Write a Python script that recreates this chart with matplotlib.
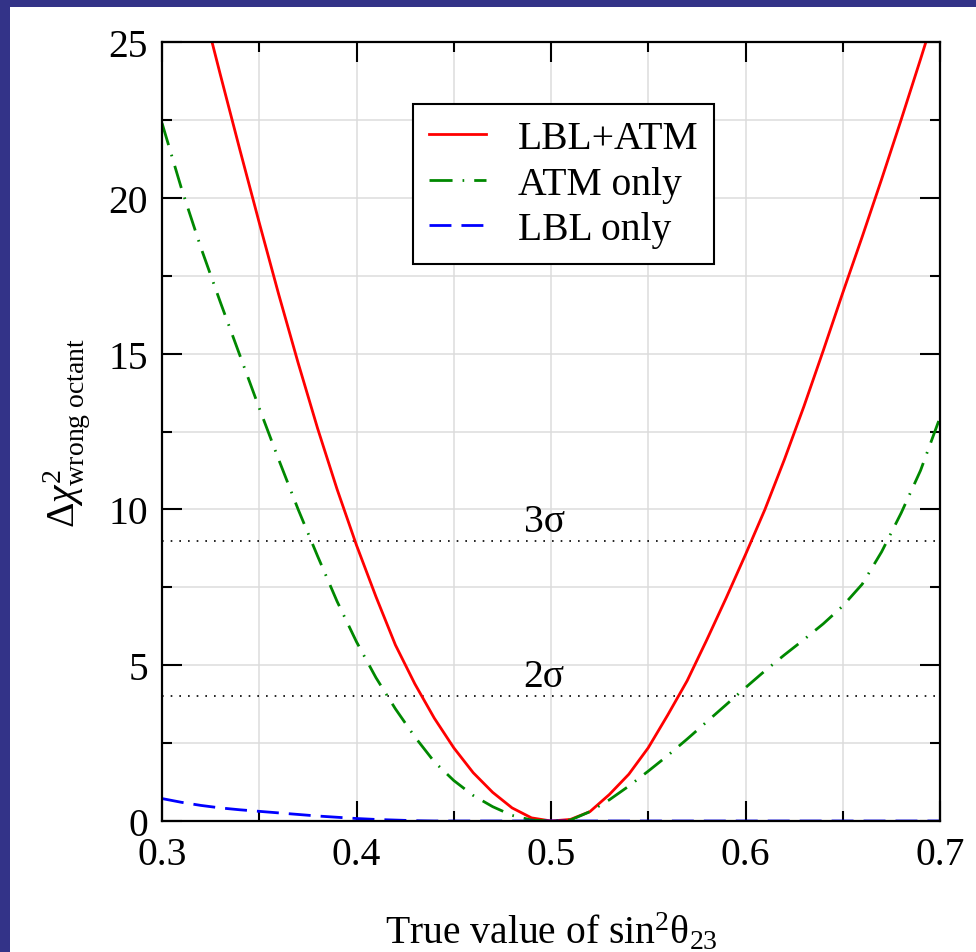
import matplotlib
matplotlib.use("Agg")
import matplotlib.pyplot as plt
from matplotlib.patches import Rectangle
from matplotlib.ticker import MultipleLocator

plt.rcParams['font.family'] = ['Liberation Serif', 'DejaVu Serif']
plt.rcParams['mathtext.fontset'] = 'custom'
plt.rcParams['mathtext.rm'] = 'Liberation Serif'
plt.rcParams['mathtext.it'] = 'Liberation Serif:italic'
plt.rcParams['mathtext.bf'] = 'Liberation Serif:bold'

# ---- data ----
sin2_theta23 = [0.30, 0.31, 0.32, 0.33, 0.34, 0.35, 0.36, 0.37, 0.38, 0.39,
                0.40, 0.41, 0.42, 0.43, 0.44, 0.45, 0.46, 0.47, 0.48, 0.49,
                0.50, 0.51, 0.52, 0.53, 0.54, 0.55, 0.56, 0.57, 0.58, 0.59,
                0.60, 0.61, 0.62, 0.63, 0.64, 0.65, 0.66, 0.67, 0.68, 0.69,
                0.70]

lbl_atm = [31.7, 29.0, 26.4, 23.95, 21.55, 19.2, 16.9, 14.7, 12.6, 10.65,
           8.85, 7.2, 5.65, 4.4, 3.3, 2.35, 1.55, 0.92, 0.42, 0.1,
           0.0, 0.05, 0.3, 0.85, 1.5, 2.35, 3.4, 4.5, 5.8, 7.15,
           8.55, 10.0, 11.6, 13.3, 15.1, 16.95, 18.75, 20.6, 22.5, 24.45,
           26.45]

atm_only = [22.4, 20.3, 18.4, 16.65, 14.95, 13.25, 11.6, 10.0, 8.5, 7.05,
            5.75, 4.6, 3.6, 2.7, 1.9, 1.3, 0.82, 0.46, 0.18, 0.03,
            0.0, 0.03, 0.3, 0.68, 1.12, 1.6, 2.1, 2.63, 3.18, 3.73,
            4.28, 4.82, 5.33, 5.82, 6.33, 6.9, 7.6, 8.64, 9.88, 11.25,
            12.95]

lbl_only = [0.72, 0.60, 0.50, 0.42, 0.36, 0.31, 0.26, 0.21, 0.16, 0.12,
            0.08, 0.05, 0.03, 0.01, 0.0, 0.0, 0.0, 0.0, 0.0, 0.0,
            0.0, 0.0, 0.0, 0.0, 0.0, 0.0, 0.0, 0.0, 0.0, 0.0,
            0.0, 0.0, 0.0, 0.0, 0.0, 0.0, 0.0, 0.0, 0.0, 0.0,
            0.0]

series_labels = ['LBL+ATM', 'ATM only', 'LBL only']
cl_levels = [9, 4]
cl_labels = ['3σ', '2σ']
cl_text_y = [9.31, 4.33]
x_ticks = [0.3, 0.4, 0.5, 0.6, 0.7]
x_ticklabels = ['0.3', '0.4', '0.5', '0.6', '0.7']
y_ticks = [0, 5, 10, 15, 20, 25]

FS = 28.5

# ---- figure ----
fig = plt.figure(figsize=(9.76, 9.53), dpi=100)
fig.patch.set_facecolor('white')
border = '#333388'
fig.patches.append(Rectangle((0, 0), 10 / 976, 1, transform=fig.transFigure,
                             facecolor=border, edgecolor='none', zorder=0))
fig.patches.append(Rectangle((0, 1 - 7.5 / 953), 1, 7.5 / 953, transform=fig.transFigure,
                             facecolor=border, edgecolor='none', zorder=0))

ax = fig.add_axes([162 / 976, 1 - 822 / 953, 778 / 976, 779 / 953])
ax.set_xlim(0.3, 0.7)
ax.set_ylim(0, 25)

ax.xaxis.set_major_locator(MultipleLocator(0.1))
ax.xaxis.set_minor_locator(MultipleLocator(0.05))
ax.yaxis.set_major_locator(MultipleLocator(5))
ax.yaxis.set_minor_locator(MultipleLocator(2.5))
ax.set_xticks(x_ticks)
ax.set_xticklabels(x_ticklabels)
ax.set_yticks(y_ticks)

ax.grid(True, which='both', color='#dcdcdc', linewidth=1.1, zorder=0)
ax.set_axisbelow(True)

ax.tick_params(which='both', direction='in', top=True, right=True,
               width=1.5, labelsize=FS, colors='black')
ax.tick_params(which='major', length=14.5)
ax.tick_params(which='minor', length=7.5)
ax.tick_params(axis='x', which='major', pad=11)
ax.tick_params(axis='y', which='major', pad=10)
for s in ax.spines.values():
    s.set_linewidth(1.6)

ax.plot(sin2_theta23, lbl_atm, color='#ff0000', lw=2.0, label=series_labels[0])
ax.plot(sin2_theta23, atm_only, color='#008800', lw=2.0,
        dashes=(8.3, 3.6, 0.6, 3.6), label=series_labels[1])
ax.plot(sin2_theta23, lbl_only, color='#0000ff', lw=2.0,
        dashes=(7.9, 3.6), label=series_labels[2])

for lev, lab, ty in zip(cl_levels, cl_labels, cl_text_y):
    ax.axhline(lev, color='black', lw=1.2, dashes=(1, 4.2), zorder=1.5)
    ax.text(0.4965, ty, lab, ha='center', va='baseline', fontsize=FS)

leg = ax.legend(loc='upper left', bbox_to_anchor=(0.3226, 0.9204),
                borderaxespad=0, fontsize=FS, fancybox=False, framealpha=1,
                edgecolor='black', handlelength=1.45, handletextpad=0.8,
                borderpad=0.4, labelspacing=0.22)
leg.get_frame().set_linewidth(1.5)

ax.set_xlabel(r'True value of sin$^{2}$θ$_{23}$', fontsize=FS, labelpad=27)
ax.set_ylabel(r'$\Delta\chi^{2}_{\mathrm{wrong\ octant}}$', fontsize=FS, labelpad=12)

fig.savefig('out.png', dpi=100, facecolor='white')
